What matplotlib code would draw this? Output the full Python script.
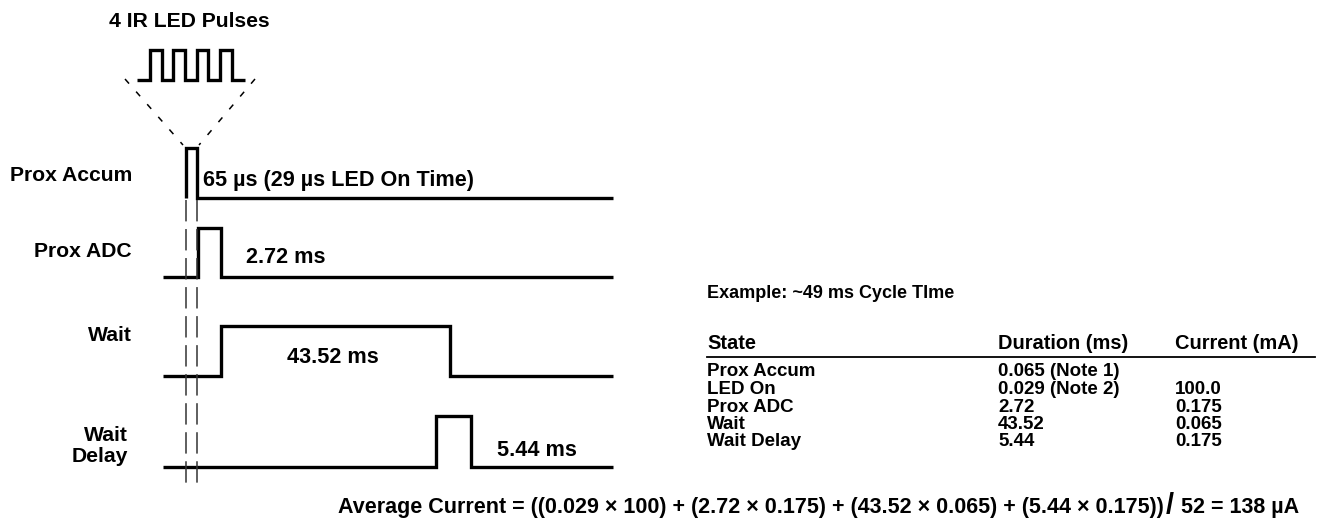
import matplotlib
matplotlib.use("Agg")
import matplotlib.pyplot as plt

# ---------------- data ----------------
pulse_title = "4 IR LED Pulses"
signal_names = ["Prox Accum", "Prox ADC", "Wait", "Wait\nDelay"]
signal_notes = ["65 \u00b5s (29 \u00b5s LED On Time)", "2.72 ms", "43.52 ms", "5.44 ms"]

example_title = "Example: ~49 ms Cycle TIme"
table_header = ["State", "Duration (ms)", "Current (mA)"]
table_states = ["Prox Accum", "LED On", "Prox ADC", "Wait", "Wait Delay"]
table_durations = ["0.065 (Note 1)", "0.029 (Note 2)", "2.72", "43.52", "5.44"]
table_currents = ["", "100.0", "0.175", "0.065", "0.175"]

formula_terms = ["(0.029 \u00d7 100)", "(2.72 \u00d7 0.175)", "(43.52 \u00d7 0.065)", "(5.44 \u00d7 0.175)"]
formula_period = "52"
formula_result = "138 \u00b5A"

# ---------------- layout (pixel space) ----------------
W, H = 1328, 527
FONT = "Liberation Sans"
FS = 15.2
FS_TAB = 14.4
LW = 2.4

fig = plt.figure(figsize=(W / 100, H / 100), dpi=100)
ax = fig.add_axes([0, 0, 1, 1])
ax.set_xlim(0, W)
ax.set_ylim(H, 0)
ax.axis("off")

def txt(x, y, s, ha="left", va="baseline", fs=FS, **kw):
    return ax.text(x, y, s, ha=ha, va=va, fontsize=fs, fontweight="bold",
                   family=FONT, color="black", **kw)

# pulse train (zoomed LED pulses)
train_base, train_high = 80, 50
train_start, train_end = 137, 245
train_edges = [150, 162, 173, 185, 197, 208, 220, 232]
xs, ys = [train_start], [train_base]
level = train_base
for e in train_edges:
    xs += [e, e]
    ys += [level, train_high if level == train_base else train_base]
    level = ys[-1]
xs.append(train_end); ys.append(level)
ax.plot(xs, ys, color="black", lw=LW, solid_joinstyle="miter", solid_capstyle="butt")
txt(189, 27, pulse_title, ha="center")

# dashed zoom triangle
ax.plot([125, 183], [79, 145], color="black", lw=1.1, dashes=(4, 7))
ax.plot([255, 199], [79, 145], color="black", lw=1.1, dashes=(4, 7))

# signals: (start, rise, fall, end, baseline, high)
sig_geom = [
    (186, 186, 197, 613, 198, 148),
    (163, 198, 221, 613, 277, 228),
    (163, 221, 450, 613, 376, 326),
    (163, 436, 471, 613, 467, 416),
]
for (s, r, f, e, b, h) in sig_geom:
    ax.plot([s, r, r, f, f, e], [b, b, h, h, b, b], color="black", lw=LW,
            solid_joinstyle="miter", solid_capstyle="butt")

# signal labels
label_pos = [(132, 181), (132, 257), (132, 341), (128, 446)]
for name, (x, y) in zip(signal_names, label_pos):
    if "\n" in name:
        txt(x, y, name, ha="right", va="center", multialignment="right", linespacing=1.12)
    else:
        txt(x, y, name, ha="right")

note_pos = [(203, 186, "left"), (246, 263, "left"), (333, 363, "center"), (497, 456, "left")]
for note, (x, y, ha) in zip(signal_notes, note_pos):
    txt(x, y, note, ha=ha, fs=15.6)

# vertical dashed reference lines
for x in (186, 197):
    ax.plot([x, x], [200, 487], color="#333333", lw=1.1, dashes=(14, 5))

# table
col_x = [707, 998, 1175]
txt(col_x[0], 298, example_title, fs=13.0)
fig.canvas.draw()
renderer = fig.canvas.get_renderer()
inv = ax.transData.inverted()

for cx, head in zip(col_x, table_header):
    txt(cx, 349, head, fs=FS_TAB)
ax.plot([707, 1315], [357, 357], color="black", lw=1.3)

# row pitch: at least the text line height so rows never collide
probe = txt(0, 0, "Prox Accum", fs=FS_TAB - 0.9)
pb = probe.get_window_extent(renderer)
line_h = pb.height
probe.remove()
row_dy = max(17.0, line_h + 0.5)
row_y0 = 376.5
for i, (st, du, cu) in enumerate(zip(table_states, table_durations, table_currents)):
    y = row_y0 + i * row_dy
    txt(col_x[0], y, st, fs=FS_TAB - 0.9)
    txt(col_x[1], y, du, fs=FS_TAB - 0.9)
    if cu:
        txt(col_x[2], y, cu, fs=FS_TAB - 0.9)

# formula line (right aligned, enlarged slash)
part3 = " " + formula_period + " = " + formula_result
part1 = "Average Current = (" + " + ".join(formula_terms) + ")"
x_right, y_base = 1299, 513
FS_F = 15.5
t3 = txt(x_right, y_base, part3, ha="right", fs=FS_F)
bb = t3.get_window_extent(renderer)
x3 = inv.transform((bb.x0, 0))[0]
t2 = txt(x3 - 1, y_base + 1, "/", ha="right", fs=FS_F * 1.35)
bb = t2.get_window_extent(renderer)
x2 = inv.transform((bb.x0, 0))[0]
txt(x2 - 2, y_base, part1, ha="right", fs=FS_F)

fig.savefig("out.png", dpi=100)
